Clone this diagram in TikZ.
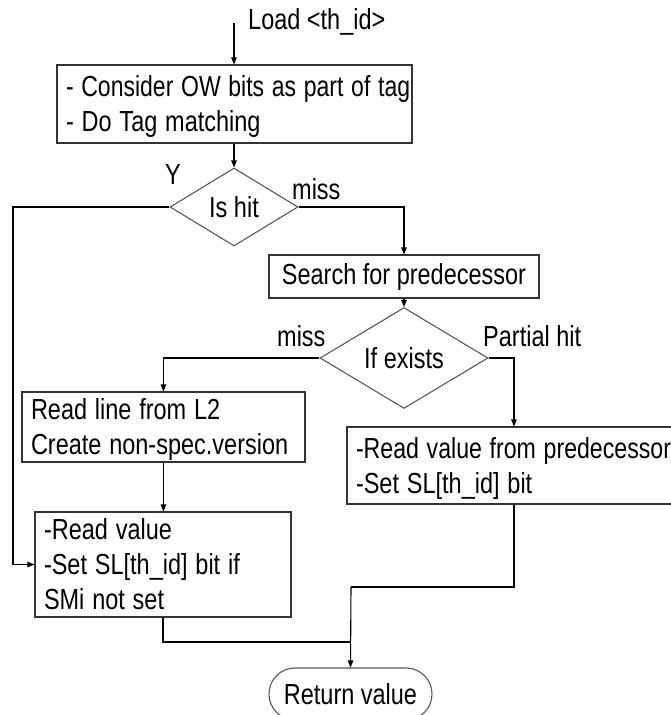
\documentclass[tikz,border=0pt]{standalone}
\usepackage{fontspec}
\setmainfont{Liberation Sans}
\usepackage{graphicx}
\usetikzlibrary{arrows.meta,shapes.geometric}

% horizontally condensed text
\newcommand\cnd[1]{\scalebox{0.81}[1]{#1}}
% left-aligned multi-line box text, nudged slightly down
\newcommand\boxlines[1]{\raisebox{-3pt}[\height][\depth]{\cnd{\begin{tabular}{@{}l@{}}#1\end{tabular}}}}

\tikzset{
  every node/.style={font=\fontsize{29}{35}\selectfont},
  procbox/.style={draw=black!80, line width=1.1pt, fill=white,
                  inner xsep=9pt, inner ysep=0pt, align=left},
  centerbox/.style={draw=black!80, line width=1.1pt, fill=white, inner sep=0pt},
  decision/.style={diamond, draw=black!65, line width=1.1pt, fill=white, inner sep=0pt},
  terminal/.style={draw=black!65, line width=1.1pt, fill=white, inner sep=0pt,
                   rounded corners=25.9pt},
  lbl/.style={inner sep=0pt},
  conn/.style={line width=1.1pt, black},
  arr/.style={conn, -{Triangle[length=7pt,width=5.5pt]}},
}

\begin{document}
\begin{tikzpicture}[x=1pt,y=-1pt]
  \useasboundingbox (0,0) rectangle (670,715);
  \fill[white] (0,0) rectangle (670,715);

  % process steps
  \node[procbox, text width=337pt, minimum height=78pt] (b1) at (234.5,104)
    {\boxlines{\scalebox{0.98}[1]{- Consider OW bits as part of tag}\\- Do Tag matching}};
  \node[decision, minimum width=128pt, minimum height=78pt] (d1) at (234,207) {\cnd{Is hit}};
  \node[centerbox, minimum width=270pt, minimum height=43pt] (srch) at (404,276.5)
    {\cnd{Search for predecessor}};
  \node[decision, minimum width=168pt, minimum height=68pt] (d2) at (404,358) {\cnd{If exists}};
  \node[procbox, text width=265pt, minimum height=68pt] (b2) at (163.5,427)
    {\boxlines{Read line from L2\\Create non-spec.version}};
  \node[procbox, text width=238pt, minimum height=103pt] (b3) at (163,564.5)
    {\boxlines{-Read value\\-Set SL[th\_id] bit if\\SMi not set}};
  \node[procbox, text width=325pt, minimum height=77pt] (b4) at (518.5,465.5)
    {\boxlines{\scalebox{0.985}[1]{-Read value from predecessor}\\-Set SL[th\_id] bit}};
  \node[terminal, minimum width=163pt, minimum height=52pt] (ret) at (350.5,694)
    {\cnd{Return value}};

  % labels
  \node[lbl, anchor=base west] (loadlbl) at (248,29) {\cnd{Load <th\_id>}};
  \node[lbl, anchor=base] (ylbl) at (173,184) {\cnd{Y}};
  \node[lbl, anchor=base west] (miss1) at (292,199) {\cnd{miss}};
  \node[lbl, anchor=base west] (miss2) at (277,346) {\cnd{miss}};
  \node[lbl, anchor=base west] (part) at (483,346) {\cnd{Partial hit}};

  % routing points
  \coordinate (start) at (234,23);
  \coordinate (lx) at (13,0);
  \coordinate (rx) at (514,0);
  \coordinate (j1) at (351,587);
  \coordinate (j2) at (351,642);

  % connectors
  \draw[arr] (start) -- (start |- b1.north);
  \draw[arr] (b1.south -| d1.north) -- (d1.north);
  \draw[arr] (d1.west) -- (lx |- d1.west) |- (b3.west);
  \draw[arr] (d1.east) -| (srch.north);
  \draw[arr] (srch.south) -- (d2.north);
  \draw[arr] (d2.west) -| (b2.north);
  \draw[arr] (d2.east) -| (rx |- b4.north);
  \draw[arr] (b2.south) -- (b2.south |- b3.north);
  \draw[conn] (rx |- b4.south) |- (j1);
  \draw[arr] (j1) -- (ret.north);
  \draw[conn] (b3.south) |- (j2);
\end{tikzpicture}
\end{document}
